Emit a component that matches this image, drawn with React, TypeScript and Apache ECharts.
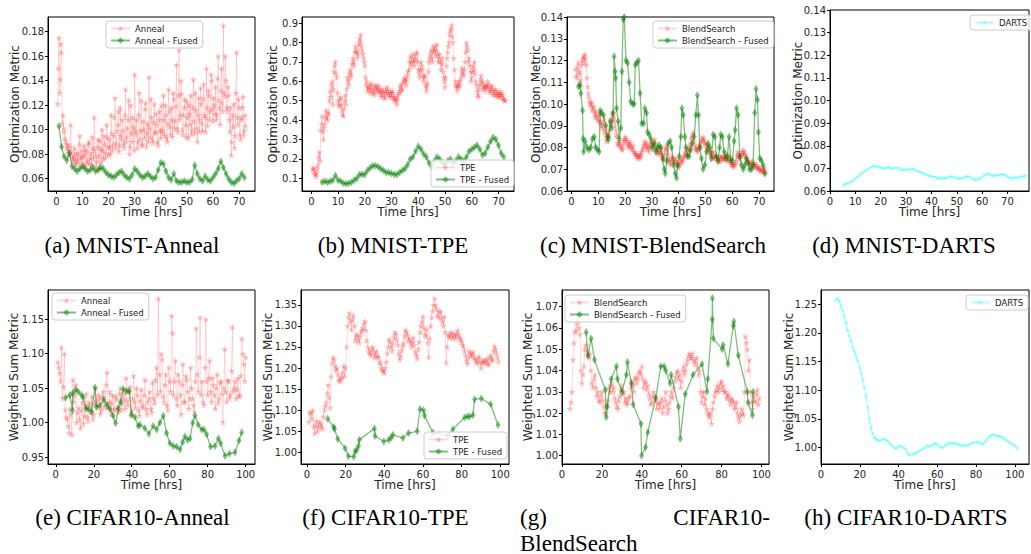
import React, { useEffect, useRef } from "react";
import * as echarts from "echarts";

// ---------------- DATA ----------------
// (a) MNIST - Anneal: two interleaved sample runs (every 0.5 h, offset by 0.25 h)
const MNIST_ANNEAL_T0 = 0.5;
const MNIST_ANNEAL_T0_B = 0.75;
const MNIST_ANNEAL_DT = 0.5;
const mnistAnneal = [
  0.121, 0.175, 0.141, 0.163, 0.112, 0.098, 0.091, 0.085, 0.088, 0.081,
  0.104, 0.078, 0.074, 0.085, 0.076, 0.072, 0.080, 0.095, 0.073, 0.078,
  0.087, 0.070, 0.082, 0.075, 0.090, 0.077, 0.071, 0.085, 0.110, 0.079,
  0.074, 0.092, 0.068, 0.084, 0.100, 0.076, 0.088, 0.081, 0.094, 0.079,
  0.086, 0.112, 0.083, 0.095, 0.126, 0.089, 0.104, 0.082, 0.118, 0.092,
  0.099, 0.085, 0.133, 0.094, 0.108, 0.080, 0.120, 0.090, 0.102, 0.145,
  0.096, 0.085, 0.112, 0.092, 0.124, 0.088, 0.100, 0.117, 0.086, 0.105,
  0.143, 0.094, 0.110, 0.089, 0.121, 0.098, 0.104, 0.087, 0.115, 0.093,
  0.100, 0.128, 0.095, 0.112, 0.090, 0.133, 0.102, 0.118, 0.094, 0.125,
  0.107, 0.153, 0.098, 0.165, 0.112, 0.129, 0.096, 0.118, 0.104, 0.123,
  0.093, 0.113, 0.128, 0.100, 0.141, 0.097, 0.116, 0.090, 0.126, 0.108,
  0.121, 0.099, 0.137, 0.110, 0.150, 0.103, 0.128, 0.115, 0.140, 0.107,
  0.120, 0.135, 0.112, 0.160, 0.118, 0.132, 0.122, 0.185, 0.127, 0.140,
  0.115, 0.128, 0.098, 0.079, 0.112, 0.121, 0.095, 0.163, 0.104, 0.118,
  0.092, 0.110, 0.127, 0.099, 0.103,
];
const mnistAnnealB = [
  0.150, 0.130, 0.170, 0.105, 0.101, 0.093, 0.088, 0.083, 0.079, 0.086,
  0.082, 0.076, 0.079, 0.072, 0.081, 0.075, 0.088, 0.077, 0.083, 0.071,
  0.079, 0.084, 0.073, 0.088, 0.072, 0.081, 0.094, 0.076, 0.083, 0.070,
  0.086, 0.078, 0.091, 0.073, 0.083, 0.095, 0.077, 0.104, 0.086, 0.092,
  0.080, 0.097, 0.088, 0.110, 0.085, 0.099, 0.115, 0.087, 0.095, 0.108,
  0.088, 0.112, 0.090, 0.101, 0.124, 0.086, 0.097, 0.110, 0.083, 0.099,
  0.108, 0.090, 0.130, 0.099, 0.087, 0.107, 0.093, 0.122, 0.097, 0.090,
  0.101, 0.125, 0.092, 0.106, 0.097, 0.113, 0.090, 0.108, 0.099, 0.120,
  0.097, 0.108, 0.120, 0.093, 0.105, 0.115, 0.096, 0.108, 0.130, 0.101,
  0.119, 0.101, 0.128, 0.108, 0.140, 0.100, 0.112, 0.125, 0.094, 0.110,
  0.120, 0.104, 0.096, 0.118, 0.107, 0.130, 0.101, 0.112, 0.098, 0.134,
  0.105, 0.125, 0.112, 0.098, 0.118, 0.132, 0.108, 0.145, 0.117, 0.126,
  0.113, 0.108, 0.142, 0.124, 0.104, 0.150, 0.115, 0.130, 0.160, 0.118,
  0.135, 0.108, 0.118, 0.090, 0.102, 0.085, 0.130, 0.110, 0.125, 0.096,
  0.108, 0.118, 0.095, 0.112,
];
const MNIST_ANNEAL_FUSED_T0 = 1;
const mnistAnnealFused = [
  0.103, 0.086, 0.078, 0.075, 0.081, 0.070, 0.068, 0.066, 0.068, 0.070,
  0.068, 0.066, 0.067, 0.069, 0.066, 0.067, 0.069, 0.068, 0.065, 0.063,
  0.062, 0.061, 0.063, 0.065, 0.066, 0.063, 0.061, 0.060, 0.063, 0.068,
  0.066, 0.063, 0.061, 0.062, 0.064, 0.062, 0.060, 0.061, 0.067, 0.073,
  0.072, 0.066, 0.061, 0.059, 0.064, 0.058, 0.057, 0.057, 0.058, 0.057,
  0.057, 0.059, 0.071, 0.064, 0.060, 0.058, 0.062, 0.059, 0.058, 0.061,
  0.064, 0.068, 0.074, 0.069, 0.064, 0.060, 0.057, 0.056, 0.058, 0.060,
  0.064, 0.061,
];

// (b) MNIST - TPE
const MNIST_TPE_T0 = 0.5;
const MNIST_TPE_T0_B = 0.75;
const MNIST_TPE_DT = 0.5;
const mnistTpe = [
  0.150, 0.155, 0.120, 0.130, 0.170, 0.235, 0.350, 0.420, 0.300, 0.380,
  0.450, 0.400, 0.430, 0.550, 0.580, 0.480, 0.650, 0.700, 0.620, 0.500,
  0.470, 0.520, 0.450, 0.420, 0.500, 0.480, 0.620, 0.580, 0.660, 0.640,
  0.720, 0.680, 0.780, 0.750, 0.740, 0.820, 0.840, 0.760, 0.720, 0.680,
  0.580, 0.550, 0.570, 0.540, 0.580, 0.560, 0.530, 0.570, 0.550, 0.580,
  0.540, 0.520, 0.560, 0.550, 0.510, 0.540, 0.560, 0.530, 0.550, 0.520,
  0.540, 0.500, 0.520, 0.480, 0.530, 0.550, 0.570, 0.560, 0.600, 0.620,
  0.580, 0.630, 0.660, 0.730, 0.700, 0.740, 0.680, 0.720, 0.750, 0.660,
  0.620, 0.700, 0.660, 0.600, 0.630, 0.550, 0.590, 0.700, 0.740, 0.720,
  0.780, 0.760, 0.730, 0.790, 0.700, 0.740, 0.660, 0.720, 0.620, 0.570,
  0.680, 0.750, 0.800, 0.860, 0.890, 0.800, 0.660, 0.580, 0.550, 0.600,
  0.580, 0.620, 0.670, 0.630, 0.700, 0.800, 0.760, 0.720, 0.650, 0.620,
  0.680, 0.700, 0.600, 0.550, 0.520, 0.580, 0.630, 0.600, 0.570, 0.550,
  0.580, 0.600, 0.560, 0.540, 0.580, 0.550, 0.530, 0.560, 0.520, 0.540,
  0.550, 0.520, 0.530, 0.510, 0.500,
];
const mnistTpeB = [
  0.140, 0.125, 0.110, 0.150, 0.210, 0.190, 0.380, 0.340, 0.360, 0.420,
  0.410, 0.440, 0.500, 0.520, 0.600, 0.560, 0.680, 0.640, 0.540, 0.480,
  0.510, 0.480, 0.430, 0.460, 0.530, 0.560, 0.600, 0.640, 0.620, 0.690,
  0.700, 0.750, 0.760, 0.720, 0.790, 0.800, 0.780, 0.740, 0.700, 0.620,
  0.600, 0.570, 0.560, 0.590, 0.550, 0.540, 0.580, 0.560, 0.570, 0.550,
  0.560, 0.540, 0.530, 0.520, 0.550, 0.570, 0.540, 0.520, 0.540, 0.550,
  0.520, 0.510, 0.500, 0.510, 0.540, 0.580, 0.550, 0.590, 0.610, 0.600,
  0.610, 0.650, 0.700, 0.680, 0.720, 0.700, 0.710, 0.740, 0.700, 0.640,
  0.660, 0.680, 0.630, 0.620, 0.580, 0.570, 0.650, 0.720, 0.760, 0.700,
  0.750, 0.780, 0.760, 0.740, 0.720, 0.700, 0.690, 0.650, 0.600, 0.620,
  0.720, 0.780, 0.840, 0.870, 0.830, 0.720, 0.600, 0.570, 0.580, 0.570,
  0.600, 0.650, 0.640, 0.660, 0.750, 0.780, 0.700, 0.680, 0.600, 0.650,
  0.660, 0.640, 0.580, 0.530, 0.560, 0.610, 0.590, 0.560, 0.580, 0.570,
  0.570, 0.580, 0.550, 0.570, 0.560, 0.530, 0.550, 0.540, 0.530, 0.520,
  0.530, 0.540, 0.510, 0.500,
];
const MNIST_TPE_FUSED_T0 = 4;
const mnistTpeFused = [
  0.080, 0.085, 0.080, 0.085, 0.090, 0.115, 0.090, 0.085, 0.075, 0.072,
  0.075, 0.080, 0.090, 0.100, 0.120, 0.120, 0.120, 0.140, 0.155, 0.165,
  0.165, 0.160, 0.150, 0.140, 0.130, 0.130, 0.125, 0.120, 0.120, 0.130,
  0.140, 0.150, 0.170, 0.200, 0.210, 0.240, 0.265, 0.250, 0.225, 0.210,
  0.180, 0.160, 0.190, 0.210, 0.200, 0.180, 0.170, 0.190, 0.200, 0.180,
  0.190, 0.210, 0.200, 0.190, 0.210, 0.240, 0.250, 0.260, 0.270, 0.250,
  0.220, 0.230, 0.260, 0.290, 0.310, 0.300, 0.270, 0.230, 0.210,
];

// (c) MNIST - BlendSearch
const MNIST_BLEND_T0 = 1.5;
const MNIST_BLEND_T0_B = 1.75;
const MNIST_BLEND_DT = 0.5;
const mnistBlend = [
  0.116, 0.112, 0.119, 0.114, 0.108, 0.120, 0.122, 0.123, 0.118, 0.108,
  0.103, 0.100, 0.101, 0.098, 0.096, 0.097, 0.094, 0.092, 0.095, 0.091,
  0.089, 0.093, 0.087, 0.084, 0.083, 0.086, 0.090, 0.092, 0.096, 0.094,
  0.088, 0.085, 0.081, 0.083, 0.080, 0.079, 0.083, 0.085, 0.084, 0.081,
  0.083, 0.082, 0.080, 0.081, 0.078, 0.077, 0.076, 0.077, 0.075, 0.076,
  0.079, 0.081, 0.083, 0.080, 0.082, 0.078, 0.081, 0.083, 0.079, 0.084,
  0.080, 0.078, 0.079, 0.077, 0.080, 0.075, 0.074, 0.079, 0.081, 0.077,
  0.074, 0.072, 0.076, 0.075, 0.073, 0.074, 0.072, 0.071, 0.073, 0.075,
  0.074, 0.076, 0.078, 0.077, 0.080, 0.079, 0.082, 0.085, 0.087, 0.081,
  0.080, 0.078, 0.079, 0.082, 0.083, 0.085, 0.084, 0.082, 0.080, 0.081,
  0.078, 0.077, 0.076, 0.078, 0.075, 0.076, 0.074, 0.073, 0.075, 0.076,
  0.074, 0.076, 0.077, 0.075, 0.074, 0.076, 0.073, 0.072, 0.071, 0.072,
  0.074, 0.078, 0.076, 0.075, 0.077, 0.079, 0.078, 0.076, 0.075, 0.074,
  0.073, 0.072, 0.074, 0.071, 0.073, 0.072, 0.070, 0.071, 0.069, 0.070,
  0.069, 0.071, 0.069,
];
const mnistBlendB = [
  0.113, 0.117, 0.115, 0.111, 0.118, 0.121, 0.119, 0.121, 0.112, 0.105,
  0.101, 0.099, 0.097, 0.099, 0.094, 0.095, 0.093, 0.096, 0.092, 0.090,
  0.091, 0.088, 0.086, 0.083, 0.085, 0.088, 0.093, 0.095, 0.092, 0.090,
  0.086, 0.082, 0.082, 0.081, 0.079, 0.081, 0.084, 0.083, 0.082, 0.080,
  0.081, 0.080, 0.079, 0.078, 0.077, 0.076, 0.075, 0.076, 0.077, 0.078,
  0.080, 0.082, 0.081, 0.079, 0.080, 0.080, 0.082, 0.081, 0.082, 0.082,
  0.079, 0.077, 0.078, 0.078, 0.077, 0.076, 0.077, 0.080, 0.079, 0.075,
  0.073, 0.074, 0.075, 0.074, 0.075, 0.073, 0.071, 0.072, 0.074, 0.073,
  0.075, 0.077, 0.076, 0.079, 0.078, 0.081, 0.084, 0.086, 0.083, 0.079,
  0.079, 0.080, 0.081, 0.080, 0.084, 0.083, 0.082, 0.081, 0.079, 0.079,
  0.077, 0.078, 0.075, 0.076, 0.076, 0.075, 0.075, 0.074, 0.076, 0.075,
  0.075, 0.075, 0.076, 0.074, 0.075, 0.074, 0.072, 0.073, 0.072, 0.073,
  0.076, 0.077, 0.075, 0.076, 0.078, 0.077, 0.077, 0.075, 0.073, 0.073,
  0.072, 0.073, 0.072, 0.072, 0.071, 0.071, 0.071, 0.070, 0.070, 0.069,
  0.070, 0.068,
];
const mnistBlendFused = [
  [2.6, 0.108], [3.1, 0.109], [3.5, 0.105], [4.1, 0.097], [4.3, 0.084], [4.5, 0.078],
  [5.1, 0.083], [5.7, 0.080], [6.5, 0.079], [7.2, 0.080], [7.8, 0.084], [8.5, 0.085],
  [9.0, 0.080], [9.7, 0.079], [10.3, 0.078], [10.7, 0.097], [11.2, 0.096], [11.9, 0.095],
  [12.8, 0.090], [13.4, 0.085], [13.8, 0.084], [14.4, 0.092], [14.9, 0.089], [15.5, 0.096],
  [15.9, 0.122], [16.3, 0.115], [16.5, 0.112], [16.8, 0.098], [17.4, 0.092], [17.8, 0.084],
  [18.4, 0.089], [18.8, 0.115], [19.3, 0.139], [19.7, 0.140], [20.3, 0.120], [20.9, 0.119],
  [21.5, 0.110], [22.1, 0.101], [22.8, 0.100], [23.4, 0.100], [23.8, 0.118], [24.4, 0.119],
  [25.0, 0.120], [25.6, 0.105], [26.2, 0.091], [26.9, 0.091], [27.4, 0.098], [28.0, 0.096],
  [28.4, 0.087], [29.0, 0.086], [29.6, 0.084], [30.2, 0.080], [30.8, 0.082], [31.5, 0.078],
  [32.1, 0.080], [32.7, 0.081], [33.3, 0.080], [34.0, 0.075], [34.6, 0.070], [35.0, 0.068],
  [35.6, 0.074], [36.1, 0.082], [36.8, 0.083], [37.4, 0.080], [38.1, 0.072], [38.7, 0.068],
  [39.2, 0.066], [39.6, 0.072], [40.2, 0.076], [40.8, 0.085], [41.2, 0.098], [41.7, 0.095],
  [42.3, 0.085], [42.7, 0.080], [43.3, 0.076], [43.9, 0.076], [44.5, 0.079], [45.1, 0.082],
  [45.8, 0.085], [46.4, 0.095], [47.0, 0.104], [47.4, 0.095], [47.9, 0.080], [48.5, 0.075],
  [49.1, 0.070], [49.8, 0.072], [50.4, 0.078], [51.0, 0.082], [51.6, 0.080], [52.2, 0.075],
  [52.9, 0.086], [53.5, 0.085], [54.1, 0.076], [54.7, 0.074], [55.3, 0.080], [55.7, 0.086],
  [56.3, 0.085], [57.0, 0.078], [57.6, 0.075], [58.2, 0.076], [58.8, 0.085], [59.5, 0.074],
  [60.1, 0.074], [60.7, 0.083], [61.1, 0.088], [61.6, 0.098], [62.2, 0.095], [62.8, 0.076],
  [63.4, 0.072], [64.1, 0.070], [64.7, 0.072], [65.3, 0.075], [65.9, 0.073], [66.5, 0.070],
  [67.2, 0.070], [67.8, 0.072], [68.4, 0.096], [68.9, 0.107], [69.4, 0.102], [69.8, 0.087],
  [70.3, 0.075], [70.9, 0.074], [71.5, 0.072], [72.1, 0.068],
];

// (d) MNIST - DARTS (from 5 h, every 1 h)
const MNIST_DARTS_T0 = 5;
const mnistDarts = [
  0.0625, 0.0630, 0.0635, 0.0640, 0.0645, 0.0655, 0.0665, 0.0675, 0.0683, 0.0690,
  0.0697, 0.0705, 0.0710, 0.0709, 0.0707, 0.0705, 0.0700, 0.0703, 0.0706, 0.0702,
  0.0700, 0.0704, 0.0702, 0.0695, 0.0692, 0.0696, 0.0694, 0.0697, 0.0698, 0.0690,
  0.0686, 0.0682, 0.0678, 0.0672, 0.0668, 0.0665, 0.0663, 0.0660, 0.0655, 0.0657,
  0.0660, 0.0658, 0.0662, 0.0665, 0.0662, 0.0656, 0.0655, 0.0658, 0.0662, 0.0665,
  0.0663, 0.0656, 0.0652, 0.0650, 0.0655, 0.0662, 0.0670, 0.0678, 0.0675, 0.0668,
  0.0667, 0.0670, 0.0672, 0.0675, 0.0673, 0.0665, 0.0658, 0.0657, 0.0660, 0.0660,
  0.0662, 0.0665, 0.0667,
];

// (e) CIFAR10 - Anneal (every 1 h; second run offset by 0.5 h)
const CIFAR_ANNEAL_T0 = 1;
const CIFAR_ANNEAL_T0_B = 1.5;
const cifarAnneal = [
  1.088, 1.072, 1.109, 1.052, 1.018, 1.005, 0.985, 1.012, 1.062, 1.040,
  1.000, 1.022, 0.992, 1.030, 1.010, 1.042, 1.002, 1.025, 1.038, 1.012,
  1.050, 1.022, 1.035, 1.018, 1.045, 1.028, 1.073, 1.030, 1.012, 1.040,
  1.020, 1.034, 1.015, 1.050, 1.028, 1.043, 1.065, 1.025, 1.052, 1.018,
  1.068, 1.022, 1.040, 1.010, 1.048, 1.025, 1.062, 1.012, 1.035, 1.020,
  1.058, 1.028, 1.080, 1.180, 1.045, 1.092, 1.030, 1.070, 1.018, 1.060,
  1.155, 1.040, 1.090, 1.025, 1.060, 1.012, 1.085, 1.030, 1.062, 1.020,
  1.080, 1.035, 1.015, 1.137, 1.045, 1.153, 1.060, 1.025, 1.150, 1.040,
  1.090, 1.030, 1.055, 1.020, 1.070, 1.035, 1.060, 1.000, 1.107, 1.030,
  1.060, 1.040, 1.139, 1.050, 1.035, 1.065, 1.040, 1.122, 1.085, 1.095,
];
const cifarAnnealB = [
  1.080, 1.060, 1.035, 1.100, 1.008, 0.995, 1.020, 0.982, 1.030, 1.055,
  1.015, 1.005, 1.018, 0.998, 1.025, 1.008, 1.030, 1.015, 1.005, 1.028,
  1.032, 1.040, 1.012, 1.038, 1.022, 1.055, 1.020, 1.045, 1.028, 1.018,
  1.038, 1.022, 1.042, 1.018, 1.035, 1.020, 1.032, 1.045, 1.010, 1.035,
  1.030, 1.050, 1.018, 1.032, 1.022, 1.040, 1.020, 1.030, 1.045, 1.015,
  1.035, 1.062, 1.040, 1.070, 1.100, 1.038, 1.055, 1.025, 1.080, 1.045,
  1.130, 1.060, 1.035, 1.070, 1.040, 1.055, 1.030, 1.068, 1.045, 1.035,
  1.050, 1.025, 1.060, 1.070, 1.095, 1.040, 1.030, 1.080, 1.060, 1.065,
  1.045, 1.065, 1.040, 1.050, 1.028, 1.058, 1.042, 1.050, 1.045, 1.062,
  1.035, 1.075, 1.045, 1.060, 1.048, 1.038, 1.068, 1.100, 1.060,
];
const cifarAnnealFused = [
  [5.1, 1.036], [7.4, 1.040], [8.8, 1.018], [8.9, 1.043], [10.5, 1.048], [11.8, 1.045],
  [13.5, 1.040], [14.4, 1.037], [15.8, 1.020], [17.0, 1.020], [18.8, 1.016], [20.6, 1.051],
  [21.4, 1.023], [23.2, 1.025], [25.3, 1.034], [27.1, 1.025], [28.5, 1.020], [30.2, 1.010],
  [31.5, 0.999], [32.9, 1.020], [34.1, 1.030], [35.5, 1.049], [37.3, 1.046], [38.7, 1.046],
  [39.9, 1.012], [41.7, 1.008], [43.4, 0.995], [44.3, 0.997], [46.9, 0.992], [49.0, 0.984],
  [51.3, 0.995], [53.1, 0.990], [54.8, 1.000], [56.6, 1.010], [58.3, 0.985], [60.1, 0.970],
  [61.9, 0.966], [63.6, 0.965], [65.4, 0.961], [66.8, 0.972], [68.0, 0.980], [69.4, 0.975],
  [70.7, 0.977], [72.1, 1.000], [73.3, 1.010], [75.0, 0.997], [76.8, 0.990], [78.0, 0.990],
  [79.4, 0.983], [81.5, 0.965], [83.8, 0.966], [85.6, 0.977], [86.8, 0.970], [89.1, 0.952],
  [91.4, 0.955], [94.4, 0.957], [96.5, 0.974], [97.9, 0.986],
];

// (f) CIFAR10 - TPE
const CIFAR_TPE_T0 = 1;
const CIFAR_TPE_T0_B = 1.5;
const cifarTpe = [
  1.072, 1.093, 1.100, 1.045, 1.075, 1.060, 1.068, 1.056, 1.100, 1.118,
  1.160, 1.105, 1.212, 1.220, 1.195, 1.185, 1.168, 1.180, 1.205, 1.200,
  1.300, 1.330, 1.290, 1.325, 1.265, 1.280, 1.260, 1.285, 1.295, 1.312,
  1.265, 1.240, 1.230, 1.250, 1.225, 1.240, 1.228, 1.210, 1.195, 1.188,
  1.215, 1.250, 1.262, 1.240, 1.272, 1.280, 1.255, 1.220, 1.242, 1.258,
  1.290, 1.278, 1.270, 1.250, 1.272, 1.238, 1.222, 1.262, 1.300, 1.322,
  1.280, 1.292, 1.225, 1.300, 1.335, 1.365, 1.340, 1.320, 1.332, 1.310,
  1.322, 1.212, 1.280, 1.272, 1.282, 1.276, 1.270, 1.290, 1.272, 1.262,
  1.250, 1.230, 1.210, 1.240, 1.228, 1.238, 1.220, 1.210, 1.228, 1.200,
  1.220, 1.212, 1.222, 1.208, 1.230, 1.220, 1.252, 1.235, 1.215,
];
const cifarTpeB = [
  1.095, 1.080, 1.060, 1.065, 1.050, 1.072, 1.062, 1.085, 1.110, 1.140,
  1.130, 1.180, 1.225, 1.205, 1.200, 1.172, 1.175, 1.190, 1.180, 1.250,
  1.320, 1.310, 1.315, 1.300, 1.275, 1.268, 1.275, 1.290, 1.305, 1.290,
  1.250, 1.235, 1.245, 1.238, 1.232, 1.225, 1.215, 1.200, 1.192, 1.200,
  1.235, 1.268, 1.250, 1.258, 1.285, 1.268, 1.235, 1.228, 1.252, 1.275,
  1.285, 1.265, 1.260, 1.262, 1.255, 1.230, 1.245, 1.285, 1.310, 1.295,
  1.275, 1.260, 1.270, 1.320, 1.350, 1.348, 1.325, 1.335, 1.318, 1.300,
  1.285, 1.250, 1.275, 1.285, 1.270, 1.280, 1.282, 1.278, 1.268, 1.255,
  1.240, 1.218, 1.225, 1.235, 1.232, 1.225, 1.215, 1.222, 1.215, 1.212,
  1.215, 1.218, 1.210, 1.225, 1.218, 1.240, 1.245, 1.225,
];
const cifarTpeFused = [
  [10.7, 1.080], [13.8, 1.060], [14.2, 1.056], [15.9, 1.032], [19.7, 1.010], [21.4, 0.991],
  [24.2, 0.990], [24.9, 1.003], [25.7, 1.005], [26.6, 1.015], [27.1, 1.030], [34.9, 1.057],
  [35.2, 1.039], [39.7, 1.026], [42.3, 1.030], [43.5, 1.035], [44.4, 1.042], [49.6, 1.034],
  [52.5, 1.046], [57.0, 1.050], [58.5, 1.103], [60.3, 1.100], [60.8, 1.087], [65.1, 1.047],
  [72.9, 1.040], [75.5, 1.055], [81.5, 1.083], [82.9, 1.085], [84.1, 1.085], [85.8, 1.088],
  [86.7, 1.126], [90.2, 1.128], [95.0, 1.114], [98.8, 1.065],
];

// (g) CIFAR10 - BlendSearch
const CIFAR_BLEND_T0 = 4;
const CIFAR_BLEND_T0_B = 4.5;
const cifarBlend = [
  1.022, 1.030, 1.053, 1.059, 1.064, 1.057, 1.034, 1.042, 1.052, 1.047,
  1.048, 1.034, 1.036, 1.032, 1.030, 1.025, 1.030, 1.023, 1.020, 1.026,
  1.030, 1.034, 1.032, 1.025, 1.022, 1.028, 1.033, 1.030, 1.027, 1.025,
  1.028, 1.035, 1.030, 1.037, 1.036, 1.040, 1.042, 1.032, 1.035, 1.033,
  1.027, 1.025, 1.030, 1.028, 1.025, 1.022, 1.027, 1.023, 1.030, 1.020,
  1.025, 1.030, 1.032, 1.037, 1.040, 1.038, 1.035, 1.042, 1.040, 1.045,
  1.048, 1.046, 1.045, 1.044, 1.042, 1.040, 1.025, 1.030, 1.027, 1.020,
  1.018, 1.015, 1.025, 1.030, 1.033, 1.032, 1.035, 1.033, 1.030, 1.028,
  1.026, 1.027, 1.025, 1.023, 1.020, 1.016, 1.022, 1.019, 1.056, 1.050,
  1.045, 1.025, 1.028, 1.025, 1.031, 1.027,
];
const cifarBlendB = [
  1.025, 1.045, 1.058, 1.062, 1.060, 1.040, 1.038, 1.050, 1.049, 1.046,
  1.040, 1.032, 1.038, 1.028, 1.026, 1.028, 1.026, 1.020, 1.024, 1.032,
  1.033, 1.030, 1.027, 1.023, 1.026, 1.031, 1.029, 1.025, 1.024, 1.027,
  1.032, 1.033, 1.036, 1.034, 1.039, 1.038, 1.036, 1.034, 1.031, 1.029,
  1.024, 1.028, 1.026, 1.022, 1.024, 1.025, 1.020, 1.026, 1.024, 1.022,
  1.028, 1.027, 1.035, 1.039, 1.036, 1.032, 1.040, 1.038, 1.043, 1.047,
  1.046, 1.048, 1.043, 1.046, 1.038, 1.030, 1.028, 1.024, 1.022, 1.019,
  1.020, 1.022, 1.028, 1.031, 1.030, 1.034, 1.031, 1.030, 1.027, 1.029,
  1.024, 1.026, 1.022, 1.025, 1.018, 1.019, 1.020, 1.030, 1.053, 1.040,
  1.030, 1.022, 1.026, 1.029, 1.024,
];
const cifarBlendFused = [
  [12.1, 1.058], [13.0, 1.047], [14.6, 1.055], [16.3, 1.045], [21.7, 1.031], [22.2, 1.018],
  [22.7, 1.023], [24.7, 1.036], [27.3, 1.042], [27.8, 1.036], [30.1, 1.030], [32.3, 1.038],
  [32.8, 1.044], [34.8, 1.034], [35.7, 1.024], [39.6, 1.015], [39.9, 1.000], [41.9, 1.004],
  [43.0, 1.011], [47.0, 1.027], [49.5, 1.042], [51.2, 1.042], [52.0, 1.040], [54.2, 1.034],
  [54.7, 1.038], [58.4, 1.023], [59.3, 1.008], [61.8, 1.029], [65.7, 1.038], [70.2, 1.043],
  [72.7, 1.030], [73.1, 1.036], [75.3, 1.064], [75.4, 1.074], [75.9, 1.055], [80.3, 1.050],
  [80.8, 1.052], [83.2, 1.043], [85.9, 1.061], [86.2, 1.063], [88.4, 1.047], [92.9, 1.030],
  [93.3, 1.025], [95.5, 1.019], [95.8, 1.030],
];

// (h) CIFAR10 - DARTS
const cifarDarts = [
  [7.4, 1.258], [8.6, 1.260], [9.5, 1.255], [10.3, 1.247], [11.2, 1.240], [12.0, 1.230],
  [12.9, 1.218], [13.7, 1.205], [14.6, 1.195], [15.5, 1.186], [16.3, 1.175], [17.2, 1.168],
  [18.0, 1.160], [18.9, 1.152], [19.8, 1.140], [20.6, 1.130], [21.5, 1.118], [22.3, 1.105],
  [23.2, 1.090], [24.1, 1.070], [24.9, 1.050], [25.8, 1.035], [26.6, 1.025], [27.5, 1.018],
  [28.4, 1.015], [29.2, 1.013], [30.4, 1.012], [31.8, 1.015], [33.2, 1.014], [34.4, 1.011],
  [35.6, 1.006], [36.9, 1.002], [38.3, 0.998], [39.5, 1.000], [40.7, 1.003], [42.1, 1.001],
  [43.5, 0.998], [44.7, 0.990], [45.9, 0.987], [47.3, 0.988], [48.6, 0.990], [49.8, 0.992],
  [51.0, 0.995], [52.4, 0.997], [53.8, 1.000], [55.0, 1.003], [56.2, 1.002], [57.6, 1.005],
  [58.9, 1.007], [60.1, 1.006], [61.3, 1.001], [62.7, 1.000], [64.1, 1.003], [65.3, 1.006],
  [66.5, 1.008], [67.9, 1.007], [69.2, 1.008], [70.4, 1.006], [71.6, 1.004], [73.0, 1.003],
  [74.4, 1.004], [75.6, 1.003], [76.8, 1.006], [78.2, 1.008], [79.6, 1.009], [80.8, 1.010],
  [82.0, 1.008], [83.3, 1.006], [84.7, 1.010], [85.9, 1.016], [87.1, 1.020], [88.5, 1.022],
  [89.9, 1.021], [91.1, 1.020], [92.3, 1.020], [93.6, 1.017], [94.8, 1.014], [96.2, 1.011],
  [97.4, 1.009], [98.8, 1.006], [100.2, 1.003], [101.4, 0.998],
];

// Tick values
const xTicksMnist = [0, 10, 20, 30, 40, 50, 60, 70];
const xTicksCifar = [0, 20, 40, 60, 80, 100];
const yTicksA = [0.06, 0.08, 0.1, 0.12, 0.14, 0.16, 0.18];
const yTicksB = [0.1, 0.2, 0.3, 0.4, 0.5, 0.6, 0.7, 0.8, 0.9];
const yTicksCD = [0.06, 0.07, 0.08, 0.09, 0.1, 0.11, 0.12, 0.13, 0.14];
const yTicksE = [0.95, 1.0, 1.05, 1.1, 1.15];
const yTicksF = [1.0, 1.05, 1.1, 1.15, 1.2, 1.25, 1.3, 1.35];
const yTicksG = [1.0, 1.01, 1.02, 1.03, 1.04, 1.05, 1.06, 1.07];
const yTicksH = [1.0, 1.05, 1.1, 1.15, 1.2, 1.25];

const captions = [
  "(a) MNIST-Anneal", "(b) MNIST-TPE", "(c) MNIST-BlendSearch", "(d) MNIST-DARTS",
  "(e) CIFAR10-Anneal", "(f) CIFAR10-TPE", "(g) CIFAR10-BlendSearch", "(h) CIFAR10-DARTS",
];

// ---------------- HELPERS ----------------
const timed = (t0: number, dt: number, vals: number[]) =>
  vals.map((v, i) => [Math.round((t0 + i * dt) * 100) / 100, v]);
const merged = (...runs: number[][][]) => ([] as number[][]).concat(...runs).sort((p, q) => p[0] - q[0]);

const STAR =
  "path://M50,0L61.2,34.5L97.6,34.5L68.2,55.9L79.4,90.5L50,69.1L20.6,90.5L31.8,55.9L2.4,34.5L38.8,34.5Z";

const STYLES: Record<string, any> = {
  red: {
    symbol: STAR,
    symbolSize: 7,
    lineStyle: { color: "rgba(255,0,0,0.15)", width: 1 },
    itemStyle: { color: "rgba(255,30,30,0.28)" },
  },
  green: {
    symbol: "diamond",
    symbolSize: [5, 8],
    lineStyle: { color: "rgba(0,128,0,0.5)", width: 1.3 },
    itemStyle: { color: "rgba(0,128,0,0.5)" },
  },
  cyan: {
    symbol: STAR,
    symbolSize: 5,
    lineStyle: { color: "rgba(0,255,255,0.3)", width: 1.5 },
    itemStyle: { color: "rgba(0,255,255,0.3)" },
  },
};

const FONT = "DejaVu Sans";
const SERIF = "Liberation Serif";

const PANELS = [
  {
    grid: { left: 48, top: 17, width: 207, height: 174 },
    x: [-3.2, 76.1], xTicks: xTicksMnist, y: [0.0499, 0.192], yTicks: yTicksA, dec: 2,
    yName: "Optimization Metric", yNameX: 15, legend: { left: 106, top: 21 },
    caption: { x: 132, y: 245 },
    series: [
      { name: "Anneal", kind: "red", data: merged(timed(MNIST_ANNEAL_T0, MNIST_ANNEAL_DT, mnistAnneal), timed(MNIST_ANNEAL_T0_B, MNIST_ANNEAL_DT, mnistAnnealB)) },
      { name: "Anneal - Fused", kind: "green", data: timed(MNIST_ANNEAL_FUSED_T0, 1, mnistAnnealFused) },
    ],
  },
  {
    grid: { left: 302, top: 17, width: 212, height: 174 },
    x: [-3.5, 75.8], xTicks: xTicksMnist, y: [0.035, 0.931], yTicks: yTicksB, dec: 1,
    yName: "Optimization Metric", yNameX: 273, legend: { left: 431, top: 160 },
    caption: { x: 393, y: 245 },
    series: [
      { name: "TPE", kind: "red", data: merged(timed(MNIST_TPE_T0, MNIST_TPE_DT, mnistTpe), timed(MNIST_TPE_T0_B, MNIST_TPE_DT, mnistTpeB)) },
      { name: "TPE - Fused", kind: "green", data: timed(MNIST_TPE_FUSED_T0, 1, mnistTpeFused) },
    ],
  },
  {
    grid: { left: 567, top: 17, width: 207, height: 174 },
    x: [-1.7, 75.6], xTicks: xTicksMnist, y: [0.06, 0.14], yTicks: yTicksCD, dec: 2,
    yName: "Optimization Metric", yNameX: 536, legend: { left: 653, top: 21 },
    caption: { x: 653, y: 245 },
    series: [
      { name: "BlendSearch", kind: "red", data: merged(timed(MNIST_BLEND_T0, MNIST_BLEND_DT, mnistBlend), timed(MNIST_BLEND_T0_B, MNIST_BLEND_DT, mnistBlendB)) },
      { name: "BlendSearch - Fused", kind: "green", data: mnistBlendFused },
    ],
  },
  {
    grid: { left: 830, top: 10, width: 199, height: 181 },
    x: [0, 78.5], xTicks: xTicksMnist, y: [0.06, 0.14], yTicks: yTicksCD, dec: 2,
    yName: "Optimization Metric", yNameX: 798, legend: { left: 970, top: 15 },
    caption: { x: 904, y: 245 },
    series: [{ name: "DARTS", kind: "cyan", data: timed(MNIST_DARTS_T0, 1, mnistDarts) }],
  },
  {
    grid: { left: 48, top: 290, width: 207, height: 174 },
    x: [-4.1, 104.9], xTicks: xTicksCifar, y: [0.94, 1.1925], yTicks: yTicksE, dec: 2,
    yName: "Weighted Sum Metric", yNameX: 14, legend: { left: 52, top: 293 },
    caption: { x: 132.5, y: 517 },
    series: [
      { name: "Anneal", kind: "red", data: merged(timed(CIFAR_ANNEAL_T0, 1, cifarAnneal), timed(CIFAR_ANNEAL_T0_B, 1, cifarAnnealB)) },
      { name: "Anneal - Fused", kind: "green", data: cifarAnnealFused },
    ],
  },
  {
    grid: { left: 301, top: 290, width: 208, height: 174 },
    x: [-3.1, 104.5], xTicks: xTicksCifar, y: [0.9726, 1.385], yTicks: yTicksF, dec: 2,
    yName: "Weighted Sum Metric", yNameX: 268, legend: { left: 424, top: 432 },
    caption: { x: 385.5, y: 517 },
    series: [
      { name: "TPE", kind: "red", data: merged(timed(CIFAR_TPE_T0, 1, cifarTpe), timed(CIFAR_TPE_T0_B, 1, cifarTpeB)) },
      { name: "TPE - Fused", kind: "green", data: cifarTpeFused },
    ],
  },
  {
    grid: { left: 562, top: 290, width: 207, height: 174 },
    x: [0, 103.8], xTicks: xTicksCifar, y: [0.9961, 1.0778], yTicks: yTicksG, dec: 2,
    yName: "Weighted Sum Metric", yNameX: 528, legend: { left: 565, top: 295 },
    caption: null,
    series: [
      { name: "BlendSearch", kind: "red", data: merged(timed(CIFAR_BLEND_T0, 1, cifarBlend), timed(CIFAR_BLEND_T0_B, 1, cifarBlendB)) },
      { name: "BlendSearch - Fused", kind: "green", data: cifarBlendFused },
    ],
  },
  {
    grid: { left: 821, top: 290, width: 208, height: 174 },
    x: [0, 107.3], xTicks: xTicksCifar, y: [0.971, 1.275], yTicks: yTicksH, dec: 2,
    yName: "Weighted Sum Metric", yNameX: 789, legend: { left: 966, top: 295 },
    caption: { x: 906, y: 517 },
    series: [{ name: "DARTS", kind: "cyan", data: cifarDarts }],
  },
];

function txt(text: string, x: number, y: number, opts: any = {}) {
  const align = opts.align || "center";
  return {
    type: "text",
    x,
    y,
    rotation: opts.rotation || 0,
    silent: true,
    z: 10,
    style: {
      text,
      x: 0,
      y: 0,
      fill: opts.fill || "#262626",
      fontSize: opts.fontSize || 12,
      fontFamily: opts.fontFamily || FONT,
      fontWeight: "normal",
      textAlign: align,
      align,
      textVerticalAlign: "middle",
      verticalAlign: "middle",
    },
  };
}

function buildOption() {
  const grid: any[] = [];
  const xAxis: any[] = [];
  const yAxis: any[] = [];
  const series: any[] = [];
  const legend: any[] = [];
  const elements: any[] = [];

  PANELS.forEach((p, i) => {
    grid.push({ ...p.grid, show: true, borderColor: "#000", borderWidth: 1, backgroundColor: "transparent", containLabel: false });
    xAxis.push({
      type: "value", gridIndex: i, min: p.x[0], max: p.x[1],
      axisLine: { show: true, onZero: false, lineStyle: { color: "#000", width: 1 } },
      axisTick: { show: true, length: 3, customValues: p.xTicks, lineStyle: { color: "#000" } },
      axisLabel: { customValues: p.xTicks, fontSize: 10, color: "#262626", fontFamily: FONT, margin: 5, formatter: (v: number) => String(v) },
      splitLine: { show: false },
    });
    yAxis.push({
      type: "value", gridIndex: i, min: p.y[0], max: p.y[1],
      axisLine: { show: true, onZero: false, lineStyle: { color: "#000", width: 1 } },
      axisTick: { show: true, length: 3, customValues: p.yTicks, lineStyle: { color: "#000" } },
      axisLabel: { customValues: p.yTicks, fontSize: 10, color: "#262626", fontFamily: FONT, margin: 4, formatter: (v: number) => v.toFixed(p.dec) },
      splitLine: { show: false },
    });
    p.series.forEach((s) => {
      series.push({
        type: "line", name: s.name, xAxisIndex: i, yAxisIndex: i, data: s.data,
        ...STYLES[s.kind], showSymbol: true, silent: true, clip: true,
        emphasis: { disabled: true }, z: s.kind === "green" ? 3 : 2,
      });
    });
    legend.push({
      show: true, orient: "vertical", left: p.legend.left, top: p.legend.top,
      data: p.series.map((s) => s.name),
      itemWidth: 19, itemHeight: 8, itemGap: 3, padding: [3, 5, 3, 4],
      backgroundColor: "rgba(255,255,255,0.8)", borderColor: "#cccccc", borderWidth: 1, borderRadius: 3,
      textStyle: { fontSize: 8.5, fontFamily: FONT, color: "#1a1a1a" },
      selectedMode: false, z: 6,
    });
    const g = p.grid;
    elements.push(txt(p.yName, p.yNameX, g.top + g.height / 2, { rotation: Math.PI / 2, fontSize: 12 }));
    elements.push(txt("Time [hrs]", g.left + g.width / 2, g.top + g.height + 21, { fontSize: 12 }));
    if (p.caption) elements.push(txt(captions[i], p.caption.x, p.caption.y, { fontSize: 23, fontFamily: SERIF, fill: "#000" }));
  });

  // justified caption (g) over two lines
  const gParts = captions[6].split(" ");
  const gSecond = gParts[1].split("-");
  elements.push(txt(gParts[0], 520, 517, { fontSize: 23, fontFamily: SERIF, align: "left", fill: "#000" }));
  elements.push(txt(gSecond[0] + "-", 770, 517, { fontSize: 23, fontFamily: SERIF, align: "right", fill: "#000" }));
  elements.push(txt(gSecond[1], 520, 543, { fontSize: 23, fontFamily: SERIF, align: "left", fill: "#000" }));

  return {
    animation: false,
    backgroundColor: "#ffffff",
    grid, xAxis, yAxis, series, legend,
    graphic: { elements },
  };
}

export default function App() {
  const ref = useRef<HTMLDivElement>(null);
  useEffect(() => {
    if (!ref.current) return;
    const chart = echarts.init(ref.current, undefined, { renderer: "svg" });
    chart.setOption(buildOption() as any);
    return () => chart.dispose();
  }, []);
  return (
    <div
      ref={ref}
      style={{ position: "fixed", left: 0, top: 0, width: 1031, height: 554, background: "#fff" }}
    />
  );
}
